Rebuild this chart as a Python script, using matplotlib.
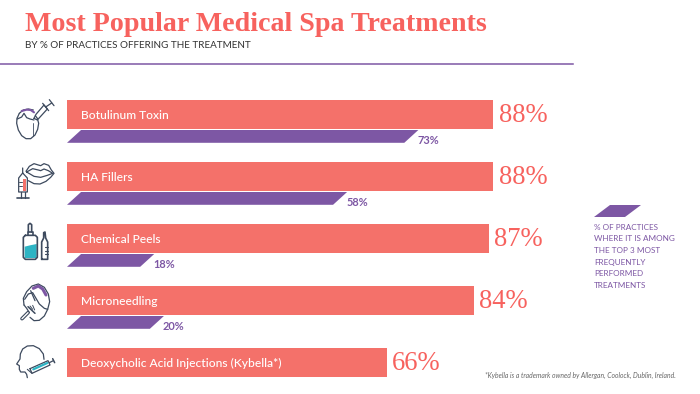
import matplotlib
matplotlib.use("Agg")
import matplotlib.pyplot as plt

treatments = ["Botulinum Toxin", "HA Fillers", "Chemical Peels", "Microneedling",
              "Deoxycholic Acid Injections (Kybella*)"]
offering = [88, 88, 87, 84, 66]
top3 = [72.5, 57.8, 18, 20]
top3_labels = ["73%", "58%", "18%", "20%"]
legend_lines = ["% OF PRACTICES", "WHERE IT IS AMONG", "THE TOP 3 MOST", "FREQUENTLY",
                "PERFORMED", "TREATMENTS"]

CORAL = "#F4716A"
TITLE = "#F7625E"
PURPLE = "#7D57A4"
DARK = "#3D4A5E"
TEAL = "#2DB4C4"
SKEW = 2.9

fig = plt.figure(figsize=(7, 3.94), dpi=100)

# page axes in pixels, for the text and the icons
page = fig.add_axes([0, 0, 1, 1])
page.set_xlim(0, 700)
page.set_ylim(394, 0)
page.axis("off")

# bars: 0% sits at x=67, 62 px between rows
ax = fig.add_axes([67 / 700, 0.5 / 394, 484.6 / 700, 310 / 394])
ax.set_xlim(0, 100)
ax.set_ylim(4.5, -0.5)
ax.axis("off")
ax.patch.set_alpha(0)

ax.barh(range(len(offering)), offering, height=29 / 62, color=CORAL)
for i, (name, v) in enumerate(zip(treatments, offering)):
    ax.text(2.9, i + 1 / 62, name, color="white", fontsize=8.65, family="Lato", weight="medium",
            va="center", ha="left")
    ax.text(v + 1.1, i + 1.5 / 62, f"{v}%", color=TITLE, fontsize=19.2, family="Liberation Serif",
            va="center", ha="left")

for i, (v, label) in enumerate(zip(top3, top3_labels)):
    y0 = i + 15.5 / 62
    y1 = i + 28.3 / 62
    ax.fill([0, SKEW, v, v - SKEW], [y1, y0, y0, y1], color=PURPLE, lw=0)
    ax.text(v - 0.2, i + 25.5 / 62, label, color=PURPLE, fontsize=7.9, family="Lato",
            weight="bold", va="center", ha="left")

# header
page.text(25, 31, "Most Popular Medical Spa Treatments", color=TITLE, fontsize=20.15,
          family="Liberation Serif", weight="bold", va="baseline", ha="left")
page.text(25, 45.5, "BY % OF PRACTICES OFFERING THE TREATMENT", color="#333333", fontsize=7.15,
          family="Lato", va="center", ha="left")
page.plot([0, 573], [63.5, 63.5], color=PURPLE, lw=1.1)

# legend
page.fill([594, 610, 641, 625], [217, 205, 205, 217], color=PURPLE, lw=0)
for k, text in enumerate(legend_lines):
    page.text(594, 227 + k * 11.7, text, color=PURPLE, fontsize=5.9, family="Lato",
              va="center", ha="left")

page.text(676, 375, "*Kybella is a trademark owned by Allergan, Coolock, Dublin, Ireland.",
          color="#666666", fontsize=4.85, family="Lato", style="italic", va="center", ha="right")


def icon(ox, oy, pts, color=DARK, lw=0.9, fill=None):
    xs = [ox + p[0] / 3 for p in pts]
    ys = [oy + p[1] / 3 for p in pts]
    if fill:
        page.fill(xs, ys, color=fill, lw=0)
    else:
        page.plot(xs, ys, color=color, lw=lw, solid_capstyle="round", solid_joinstyle="round")


# icon 1: face with syringe
ox, oy = 10, 95
icon(ox, oy, [(28, 55), (21, 70), (20, 85), (25, 105), (35, 122), (48, 131), (62, 131), (75, 120),
              (83, 103), (86, 85), (82, 70), (76, 62)])
icon(ox, oy, [(28, 55), (40, 45), (55, 42), (70, 45)])
icon(ox, oy, [(22, 72), (35, 66), (42, 55), (50, 68), (60, 72), (72, 75)])
icon(ox, oy, [(35, 48), (50, 44), (62, 45), (72, 52)], color=PURPLE, lw=1.5)
icon(ox, oy, [(68, 85), (68, 122)], lw=0.6)
icon(ox, oy, [(72, 70), (82, 75), (112, 42), (102, 30), (78, 58), (72, 70)])
icon(ox, oy, [(98, 25), (116, 47)])
icon(ox, oy, [(107, 36), (125, 24)])
icon(ox, oy, [(118, 14), (132, 32)])

# icon 2: lips with syringe
ox, oy = 10, 158
icon(ox, oy, [(48, 40), (58, 25), (72, 17), (85, 21), (92, 23), (102, 17), (116, 22), (124, 36),
              (132, 46), (122, 58), (108, 70), (90, 78), (72, 77), (55, 68)])
icon(ox, oy, [(50, 42), (68, 32), (85, 36), (92, 38), (102, 33), (115, 38), (128, 46), (112, 52),
              (92, 58), (72, 55), (50, 42)])
icon(ox, oy, [(38, 30), (38, 45), (26, 60), (26, 102), (52, 102), (52, 60), (38, 45)])
icon(ox, oy, [(40, 62), (48, 62), (48, 98), (40, 98)], fill=CORAL)
icon(ox, oy, [(26, 72), (36, 72)], lw=0.7)
icon(ox, oy, [(26, 84), (36, 84)], lw=0.7)
icon(ox, oy, [(33, 102), (33, 120)])
icon(ox, oy, [(45, 102), (45, 120)])
icon(ox, oy, [(22, 121), (56, 121)], lw=1.2)

# icon 3: bottle and ampoule
ox, oy = 10, 218
icon(ox, oy, [(44, 86), (60, 82), (80, 78), (80, 120), (44, 120)], fill=TEAL)
icon(ox, oy, [(46, 52), (76, 52), (82, 58), (82, 118), (76, 124), (46, 124), (40, 118), (40, 58),
              (46, 52)], lw=1.2)
icon(ox, oy, [(53, 52), (53, 42), (68, 42), (68, 52)], lw=1.2)
icon(ox, oy, [(55, 42), (55, 20), (60, 16), (65, 20), (65, 42)], lw=1.2)
icon(ox, oy, [(95, 124), (95, 72), (101, 60), (101, 44), (105, 42), (107, 60), (113, 72), (113, 124),
              (95, 124)], lw=1.2)
icon(ox, oy, [(104, 88), (113, 88)], lw=0.8)
icon(ox, oy, [(104, 98), (113, 98)], lw=0.8)
icon(ox, oy, [(104, 108), (113, 108)], lw=0.8)

# icon 4: head with needling roller
ox, oy = 10, 280
icon(ox, oy, [(42, 75), (40, 55), (50, 35), (66, 18), (85, 12), (103, 22), (115, 42), (119, 65),
              (113, 88), (103, 108), (88, 121), (72, 122), (60, 112)])
icon(ox, oy, [(42, 75), (50, 85), (58, 98)])
icon(ox, oy, [(44, 58), (55, 42), (68, 38), (78, 55), (88, 72), (103, 85), (113, 88)])
icon(ox, oy, [(62, 32), (75, 62)])
icon(ox, oy, [(70, 25), (85, 18), (98, 27), (108, 45)], color=PURPLE, lw=2.2)
icon(ox, oy, [(36, 116), (54, 98)], lw=2.6)
icon(ox, oy, [(36, 116), (54, 98)], color="white", lw=1.0)
icon(ox, oy, [(54, 80), (75, 100)], lw=1.1)
icon(ox, oy, [(60, 78), (68, 88)], lw=0.7)
icon(ox, oy, [(68, 76), (74, 90)], lw=0.7)

# icon 5: profile with syringe
ox, oy = 10, 340
icon(ox, oy, [(102, 58), (100, 42), (88, 26), (70, 17), (52, 18), (38, 27), (31, 42), (30, 57),
              (20, 72), (28, 77), (28, 88), (32, 96), (45, 96), (50, 103), (52, 113)])
icon(ox, oy, [(60, 86), (114, 62), (120, 75), (66, 100), (60, 86)])
icon(ox, oy, [(70, 88), (112, 69)], color=TEAL, lw=1.6)
icon(ox, oy, [(52, 88), (66, 100)], lw=0.8)
icon(ox, oy, [(118, 68), (130, 62)])
icon(ox, oy, [(128, 56), (134, 68)], lw=1.1)

fig.savefig("out.png", dpi=100)
